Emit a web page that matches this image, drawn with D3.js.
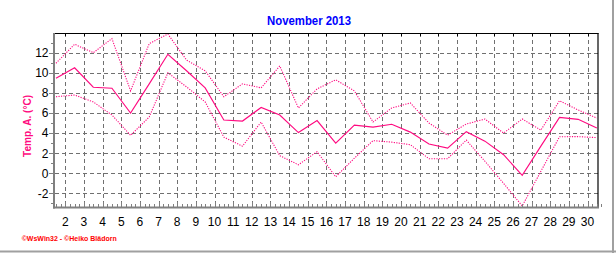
<!DOCTYPE html>
<html>
<head>
<meta charset="utf-8">
<script src="https://cdn.jsdelivr.net/npm/d3@7/dist/d3.min.js"></script>
<style>
html,body{margin:0;padding:0;background:#fff;}
svg{display:block;}
</style>
</head>
<body>
<svg id="chart" width="616" height="253"></svg>
<script>
// ---- data ----
const days = [1,2,3,4,5,6,7,8,9,10,11,12,13,14,15,16,17,18,19,20,21,22,23,24,25,26,27,28,29,30];
const tMean = [9.45,10.5,8.56,8.46,6.0,8.9,11.84,10.2,8.5,5.3,5.2,6.55,5.8,4.05,5.25,3.0,4.8,4.6,4.88,4.1,2.92,2.5,4.14,3.2,1.85,-0.2,2.7,5.57,5.37,4.5];
const tMax = [10.95,12.84,12.0,13.4,8.2,12.9,13.86,11.27,10.2,7.62,8.9,8.5,10.68,6.5,8.4,9.3,8.2,5.1,6.5,7.0,5.0,3.8,4.9,5.4,4.0,5.4,4.3,7.22,6.3,5.5];
const tMin = [7.62,7.79,7.1,5.8,3.78,5.6,10.0,8.6,7.1,3.6,2.7,5.1,1.75,0.85,2.15,-0.35,1.5,3.25,3.1,2.85,1.45,1.45,3.3,1.2,-1.0,-3.25,0.2,3.64,3.65,3.55];
const xTickLabels = [2,3,4,5,6,7,8,9,10,11,12,13,14,15,16,17,18,19,20,21,22,23,24,25,26,27,28,29,30];
const yTickLabels = [-2,0,2,4,6,8,10,12];
const yMinorTicks = [-3,-1,1,3,5,7,9,11,13];
const title = "November 2013";
const yTitle = "Temp. A. (°C)";
const credit = "©WsWin32 - ©Heiko Blädorn";

// ---- layout ----
const L = 55, R = 598, T = 33, B = 206.5;
const pink = "#ff0a80";
const svg = d3.select("#chart");

const x = d3.scaleLinear().domain([2, 30]).range([65.3, 587.5]);
const y = d3.scaleLinear().domain([0, 12]).range([173.3, 52.7]);

svg.append("defs").append("clipPath").attr("id","clip")
  .append("rect").attr("x",L).attr("y",T).attr("width",R-L).attr("height",B-T);

// outer border (right & bottom)
svg.append("line").attr("x1",613).attr("x2",613).attr("y1",0).attr("y2",253)
  .attr("stroke","#a0a0a0").attr("stroke-width",2);
svg.append("line").attr("x1",0).attr("x2",616).attr("y1",251.5).attr("y2",251.5)
  .attr("stroke","#a0a0a0").attr("stroke-width",2);

// grid
const grid = svg.append("g").attr("stroke","#707070").attr("stroke-width",1)
  .attr("stroke-dasharray","4,3").attr("shape-rendering","crispEdges");
grid.selectAll("line.h").data(yTickLabels).join("line")
  .attr("x1",L).attr("x2",R).attr("y1",d=>Math.round(y(d))+0.5).attr("y2",d=>Math.round(y(d))+0.5);
grid.selectAll("line.v").data(xTickLabels).join("line")
  .attr("y1",T).attr("y2",B).attr("x1",d=>Math.round(x(d))+0.5).attr("x2",d=>Math.round(x(d))+0.5);

// series
const pts = arr => days.map((d,i)=>[d+0.5, arr[i]]);
const line = d3.line().x(d=>x(d[0])).y(d=>y(d[1]));
const g = svg.append("g").attr("clip-path","url(#clip)").attr("fill","none").attr("stroke",pink);
g.append("path").datum(pts(tMax)).attr("d",line).attr("stroke-width",1.1).attr("stroke-dasharray","1.2,1.3");
g.append("path").datum(pts(tMin)).attr("d",line).attr("stroke-width",1.1).attr("stroke-dasharray","1.2,1.3");
g.append("path").datum(pts(tMean)).attr("d",line).attr("stroke-width",1.15);

// frame
svg.append("line").attr("x1",L).attr("x2",R+0.5).attr("y1",T+0.5).attr("y2",T+0.5).attr("stroke","#000").attr("stroke-width",1.2);
svg.append("line").attr("x1",R).attr("x2",R).attr("y1",T).attr("y2",B+1).attr("stroke","#000").attr("stroke-width",1.2);
svg.append("line").attr("x1",L-1).attr("x2",L-1).attr("y1",T).attr("y2",B+2).attr("stroke","#808080").attr("stroke-width",2);
svg.append("line").attr("x1",L-2).attr("x2",R+1).attr("y1",B+1).attr("y2",B+1).attr("stroke","#808080").attr("stroke-width",2);

// bottom axis ticks (inside), minor quarter-day ticks
const ticksG = svg.append("g").attr("stroke","#808080").attr("stroke-width",1).attr("shape-rendering","crispEdges");
const quarter = d3.range(1.5, 30.76, 0.25);
ticksG.selectAll("line.q").data(quarter).join("line")
  .attr("x1",d=>Math.round(x(d))+0.5).attr("x2",d=>Math.round(x(d))+0.5)
  .attr("y1",B).attr("y2",d=>Number.isInteger(d)?B-5:B-2.5);
// top axis ticks
ticksG.selectAll("line.t").data(xTickLabels).join("line")
  .attr("x1",d=>Math.round(x(d))+0.5).attr("x2",d=>Math.round(x(d))+0.5)
  .attr("y1",T).attr("y2",T+3).attr("stroke","#000");
// left axis ticks
ticksG.selectAll("line.yl").data(yTickLabels).join("line")
  .attr("x1",L-6).attr("x2",L-2).attr("y1",d=>Math.round(y(d))+0.5).attr("y2",d=>Math.round(y(d))+0.5);
ticksG.selectAll("line.ym").data(yMinorTicks).join("line")
  .attr("x1",L-4).attr("x2",L-2).attr("y1",d=>Math.round(y(d))+0.5).attr("y2",d=>Math.round(y(d))+0.5);

// tick labels
const font = "'Liberation Sans', Arial, sans-serif";
svg.append("g").selectAll("text").data(xTickLabels).join("text")
  .attr("x",d=>x(d)).attr("y",226).attr("text-anchor","middle")
  .attr("font-family",font).attr("font-size",12).attr("fill","#000").text(d=>d);
svg.append("g").selectAll("text").data(yTickLabels).join("text")
  .attr("x",48.5).attr("y",d=>y(d)+4.3).attr("text-anchor","end")
  .attr("font-family",font).attr("font-size",12).attr("fill","#000").text(d=>d);

// title
svg.append("text").attr("x",309).attr("y",24.5).attr("text-anchor","middle")
  .attr("font-family",font).attr("font-size",12).attr("font-weight","bold")
  .attr("fill","#0000ff").attr("textLength",84).attr("lengthAdjust","spacingAndGlyphs").text(title);

// y title
svg.append("text").attr("transform","translate(31,126) rotate(-90)").attr("text-anchor","middle")
  .attr("font-family",font).attr("font-size",11.5).attr("font-weight","bold")
  .attr("fill",pink).attr("textLength",62).attr("lengthAdjust","spacingAndGlyphs").text(yTitle);

// credit
svg.append("text").attr("x",21.7).attr("y",240.5)
  .attr("font-family",font).attr("font-size",7.5).attr("font-weight","bold")
  .attr("fill","#ff0000").attr("textLength",95).attr("lengthAdjust","spacingAndGlyphs").text(credit);
</script>
</body>
</html>
